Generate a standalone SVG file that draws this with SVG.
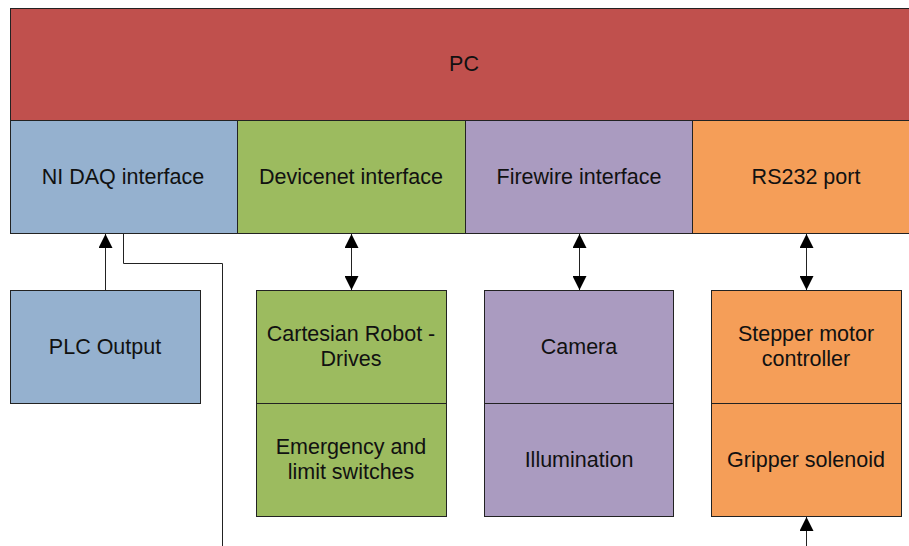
<svg xmlns="http://www.w3.org/2000/svg" width="909" height="546" viewBox="0 0 909 546">
<style>
  .box { stroke: #222; stroke-width: 1; }
  .red { fill: #C0504D; }
  .blue { fill: #95B1CF; }
  .green { fill: #9CBB5F; }
  .purple { fill: #AA9BC0; }
  .orange { fill: #F59E58; }
  text { font-family: "Liberation Sans", Arial, sans-serif; font-size: 21.5px; fill: #111; text-anchor: middle; }
  .conn { stroke: #222; stroke-width: 1; fill: none; }
</style>
<defs>
  <marker id="ah" viewBox="0 0 14 14" refX="14" refY="7" markerWidth="14" markerHeight="14" markerUnits="userSpaceOnUse" orient="auto-start-reverse">
    <path d="M0,0 L14,7 L0,14 Z" fill="#000"/>
  </marker>
</defs>
<g id="pc"><rect class="box red" x="10.5" y="8.5" width="910" height="112"/><text x="464" y="71">PC</text></g>
<g id="nidaq"><rect class="box blue" x="10.5" y="120.5" width="227" height="113"/><text x="123" y="184">NI DAQ interface</text></g>
<g id="devicenet"><rect class="box green" x="237.5" y="120.5" width="228" height="113"/><text x="351" y="184">Devicenet interface</text></g>
<g id="firewire"><rect class="box purple" x="465.5" y="120.5" width="227" height="113"/><text x="579" y="184">Firewire interface</text></g>
<g id="rs232"><rect class="box orange" x="692.5" y="120.5" width="228" height="113"/><text x="806" y="184">RS232 port</text></g>
<g id="plc"><rect class="box blue" x="10.5" y="290.5" width="190" height="113"/><text x="105" y="354">PLC Output</text></g>
<g id="cartesian"><rect class="box green" x="256.5" y="290.5" width="190" height="113"/><text x="351" y="341">Cartesian Robot -</text><text x="351" y="366">Drives</text></g>
<g id="emergency"><rect class="box green" x="256.5" y="403.5" width="190" height="113"/><text x="351" y="454">Emergency and</text><text x="351" y="479">limit switches</text></g>
<g id="camera"><rect class="box purple" x="484.5" y="290.5" width="189" height="113"/><text x="579" y="354">Camera</text></g>
<g id="illumination"><rect class="box purple" x="484.5" y="403.5" width="189" height="113"/><text x="579" y="467">Illumination</text></g>
<g id="stepper"><rect class="box orange" x="711.5" y="290.5" width="190" height="113"/><text x="806" y="341">Stepper motor</text><text x="806" y="366">controller</text></g>
<g id="gripper"><rect class="box orange" x="711.5" y="403.5" width="190" height="113"/><text x="806" y="467">Gripper solenoid</text></g>
<g id="connectors">
  <path class="conn" d="M105.5,290 L105.5,234" marker-end="url(#ah)"/>
  <path class="conn" d="M123.5,234 L123.5,263.5 L222.5,263.5 L222.5,546"/>
  <path class="conn" d="M351.5,234 L351.5,290" marker-start="url(#ah)" marker-end="url(#ah)"/>
  <path class="conn" d="M579.5,234 L579.5,290" marker-start="url(#ah)" marker-end="url(#ah)"/>
  <path class="conn" d="M806.5,234 L806.5,290" marker-start="url(#ah)" marker-end="url(#ah)"/>
  <path class="conn" d="M806.5,546 L806.5,517" marker-end="url(#ah)"/>
</g>
</svg>
